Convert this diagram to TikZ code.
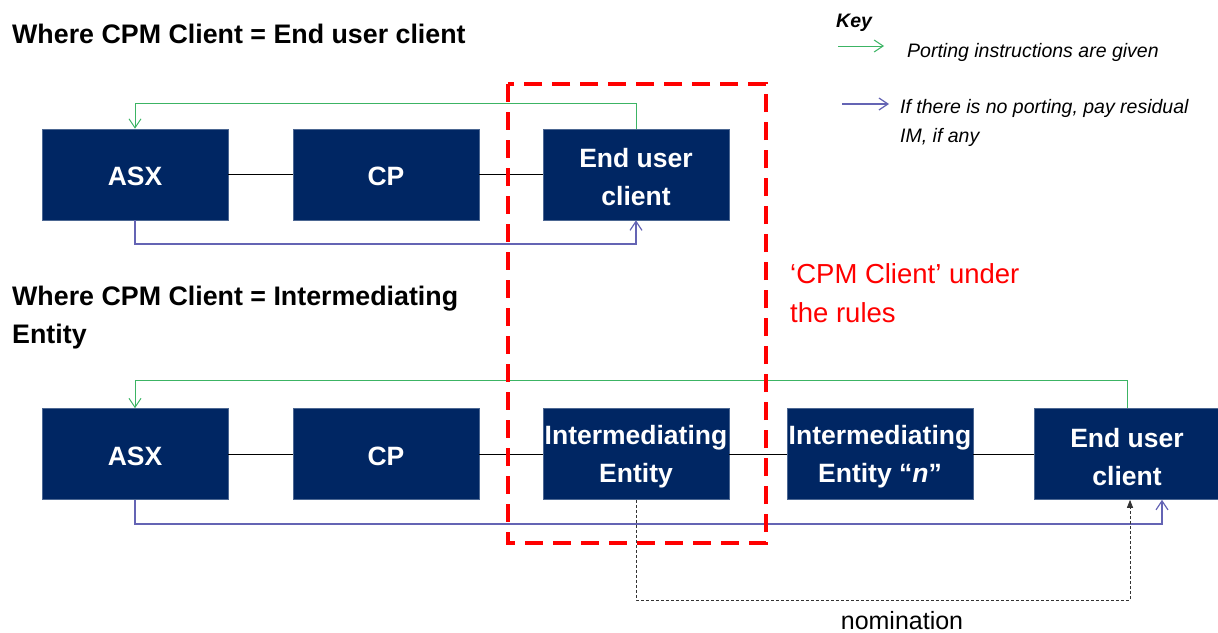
\documentclass[tikz,border=0pt]{standalone}
\usepackage{fontspec}
\setmainfont{Liberation Sans}
\usetikzlibrary{arrows.meta}
\definecolor{navy}{RGB}{0,38,99}
\definecolor{keygreen}{RGB}{60,180,100}
\definecolor{keyblue}{RGB}{100,100,180}
\begin{document}
\begin{tikzpicture}[x=1pt,y=-1pt,
  boxnode/.style={fill=navy,draw=navy!70!white,line width=0.6pt,minimum width=186pt,minimum height=91pt,inner sep=0pt,align=center,text=white,font=\fontsize{26.5}{38}\selectfont\bfseries},
  boxtext/.style={inner sep=0pt,align=center,text=white,font=\fontsize{26.5}{38}\selectfont\bfseries},
  plainlink/.style={draw=black,line width=0.8pt},
  greenarrow/.style={draw=keygreen,line width=1pt,-{Straight Barb[length=9pt,width=12pt]}},
  bluearrow/.style={draw=keyblue,line width=1.2pt,-{Straight Barb[length=9pt,width=12pt]}},
  nomarrow/.style={draw=black!80,line width=0.9pt,dash pattern=on 3pt off 2pt,-{Triangle[length=8pt,width=6pt]}},
  titletext/.style={anchor=base west,inner sep=0pt,font=\fontsize{26.8}{38}\selectfont\bfseries,align=left},
  keytext/.style={anchor=base west,inner sep=0pt,font=\fontsize{19.5}{29}\selectfont\itshape,align=left},
  redtext/.style={anchor=base west,inner sep=0pt,text=red,font=\fontsize{27.5}{39}\selectfont,align=left},
  redbox/.style={draw=red,line width=4pt,dash pattern=on 18pt off 10pt}
]
\useasboundingbox (0,0) rectangle (1218,632);

% titles
\node[titletext] (t1) at (12,43) {Where CPM Client = End user client};
\node[titletext] (t2a) at (12,305) {Where CPM Client = Intermediating};
\node[titletext] (t2b) at (12,343) {Entity};

% key
\node[anchor=base west,inner sep=0pt,font=\fontsize{19.5}{29}\selectfont\bfseries\itshape] (key) at (836,27) {Key};
\coordinate (kg1) at (838,46);
\coordinate (kg2) at (884,46);
\draw[greenarrow] (kg1) -- (kg2);
\node[keytext] (kgt) at (907,57) {Porting instructions are given};
\coordinate (kb1) at (842,104);
\coordinate (kb2) at (889,104);
\draw[bluearrow] (kb1) -- (kb2);
\node[keytext] (kbt1) at (900,113) {If there is no porting, pay residual};
\node[keytext] (kbt2) at (900,142) {IM, if any};

% top row
\node[boxnode] (a1) at (135,174.5) {};
\node[boxnode] (c1) at (386,174.5) {};
\node[boxnode] (e1) at (636,174.5) {};
\node[boxtext] (a1t) at ([yshift=-2pt]a1.center) {ASX};
\node[boxtext] (c1t) at ([yshift=-2pt]c1.center) {CP};
\node[boxtext] (e1t) at ([yshift=-3pt]e1.center) {End user\\client};
\draw[plainlink] (a1.east) -- (c1.west);
\draw[plainlink] (c1.east) -- (e1.west);
\coordinate (g1) at (0,103);
\draw[greenarrow] (e1.north) -- (e1.north |- g1) -| (a1.north);
\coordinate (b1) at (0,244);
\draw[bluearrow] (a1.south) -- (a1.south |- b1) -| (e1.south);

% bottom row
\node[boxnode] (a2) at (135,454) {};
\node[boxnode] (c2) at (386,454) {};
\node[boxnode] (i2) at (636,454) {};
\node[boxnode] (n2) at (880,454) {};
\node[boxnode] (e2) at (1127,454) {};
\node[boxtext] (a2t) at ([yshift=-2pt]a2.center) {ASX};
\node[boxtext] (c2t) at ([yshift=-2pt]c2.center) {CP};
\node[boxtext] (i2t) at ([yshift=-3pt]i2.center) {Intermediating\\Entity};
\node[boxtext] (n2t) at ([yshift=-3pt]n2.center) {Intermediating\\Entity “\textit{n}”};
\node[boxtext] (e2t) at ([yshift=-3pt]e2.center) {End user\\client};
\draw[plainlink] (a2.east) -- (c2.west);
\draw[plainlink] (c2.east) -- (i2.west);
\draw[plainlink] (i2.east) -- (n2.west);
\draw[plainlink] (n2.east) -- (e2.west);
\coordinate (g2) at (0,380);
\draw[greenarrow] (e2.north) -- (e2.north |- g2) -| (a2.north);
\coordinate (b2) at (0,524);
\coordinate (e2b) at ([xshift=35pt]e2.south);
\draw[bluearrow] (a2.south) -- (a2.south |- b2) -| (e2b);
\coordinate (d2) at (0,600);
\coordinate (e2d) at ([xshift=3pt]e2.south);
\draw[nomarrow] (i2.south) -- (i2.south |- d2) -| (e2d);
\node[anchor=base,inner sep=0pt,font=\fontsize{25}{30}\selectfont] (nom) at (902,629) {nomination};

% red dashed box
\coordinate (r1) at (508,84);
\coordinate (r2) at (766,543);
\draw[redbox] (r1) rectangle (r2);
\node[redtext] (rt1) at (790,283) {‘CPM Client’ under};
\node[redtext] (rt2) at (790,322) {the rules};
\end{tikzpicture}
\end{document}
